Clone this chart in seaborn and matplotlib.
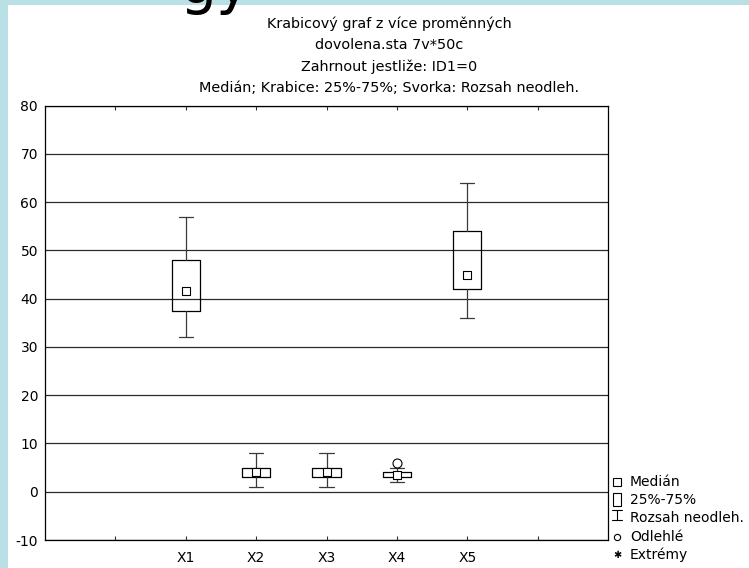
import numpy as np
import pandas as pd
import matplotlib
matplotlib.use("Agg")
import matplotlib.pyplot as plt
import seaborn as sns
from matplotlib.patches import Rectangle
from matplotlib.lines import Line2D

# ---------------- data ----------------
categories = ["X1", "X2", "X3", "X4", "X5"]
whisker_low = [32, 1, 1, 2, 36]
q1 = [37.5, 3, 3, 3, 42]
median = [41.5, 4, 4, 3.5, 45]
q3 = [48, 5, 5, 4, 54]
whisker_high = [57, 8, 8, 5, 64]
outlier_vars = ["X4"]
outlier_vals = [6]

tick_labels = [""] + categories + [""]
y_ticks = list(range(-10, 81, 10))

title_lines = [
    "Krabicový graf z více proměnných",
    "dovolena.sta 7v*50c",
    "Zahrnout jestliže: ID1=0",
    "Medián; Krabice: 25%-75%; Svorka: Rozsah neodleh.",
]
legend_labels = ["Medián", "25%-75%", "Rozsah neodleh.", "Odlehlé", "Extrémy"]

# ---------------- style ----------------
sns.set_style("white")
plt.rcParams["font.family"] = ["DejaVu Sans"]

W, H = 749, 568
BG = "#B9E0E4"


def F(x, y):
    return (x / W, 1 - y / H)


fig = plt.figure(figsize=(W / 100, H / 100), dpi=100, facecolor=BG)
fig.add_artist(Rectangle(F(8, H), 1 - 8 / W, 1 - 5 / H, transform=fig.transFigure,
                         facecolor="white", edgecolor="none", zorder=-5))

# cut-off heading at the top of the slide (only its lower part is visible)
fig.text(*F(180, 3), "gy", fontsize=42, ha="left", va="baseline", color="black")

ax = fig.add_axes([45 / W, 1 - 540 / H, (608 - 45) / W, (540 - 105.7) / H])
ax.set_facecolor("white")

pos_of = {c: i + 2 for i, c in enumerate(categories)}
positions = [pos_of[c] for c in categories]

stats = []
for c, lo, a, m, b, hi in zip(categories, whisker_low, q1, median, q3, whisker_high):
    stats.append(dict(label=c, whislo=lo, q1=a, med=m, q3=b, whishi=hi, fliers=[]))

ax.bxp(stats, positions=positions, widths=0.4, capwidths=0.2, showfliers=False,
       boxprops=dict(color="black", linewidth=0.9),
       whiskerprops=dict(color="#3a3a3a", linewidth=0.9),
       capprops=dict(color="#3a3a3a", linewidth=0.9),
       medianprops=dict(linewidth=0), manage_ticks=False)

med_df = pd.DataFrame({"pos": positions, "median": median})
sns.scatterplot(data=med_df, x="pos", y="median", marker="s", s=30, color="white",
                edgecolor="black", linewidth=0.8, ax=ax, zorder=5, legend=False)

out_df = pd.DataFrame({"pos": [pos_of[c] for c in outlier_vars], "val": outlier_vals})
sns.scatterplot(data=out_df, x="pos", y="val", marker="o", s=42, color="white",
                edgecolor="black", linewidth=0.8, ax=ax, zorder=5, legend=False)

ax.set_xlim(0, 8)
ax.set_ylim(-10, 80)
ax.set_xticks(range(1, 8))
ax.set_xticklabels(tick_labels)
ax.set_yticks(y_ticks)
ax.set_yticklabels([str(v) for v in y_ticks])
ax.set_xlabel("")
ax.set_ylabel("")
ax.yaxis.grid(True, color="#2a2a2a", linewidth=0.9)
ax.xaxis.grid(False)
ax.set_axisbelow(True)
ax.tick_params(axis="y", length=0, pad=5, labelsize=10, labelcolor="black")
ax.tick_params(axis="x", direction="in", length=3, width=0.8, top=True, bottom=True,
               pad=8, labelsize=10, labelcolor="black", color="#333333")
for s in ax.spines.values():
    s.set_visible(True)
    s.set_color("black")
    s.set_linewidth(0.9)

# titles
for i, t in enumerate(title_lines):
    fig.text(*F(389, 24 + 21.2 * i), t, ha="center", va="center", fontsize=10.4, color="black")

# custom legend
ly = [482, 500, 518.5, 537, 555]
sx = 617
fig.add_artist(Line2D([F(sx, 0)[0]], [F(0, ly[0])[1]], marker="s", markersize=5.5,
                      markerfacecolor="white", markeredgecolor="black", markeredgewidth=0.8,
                      linestyle="none", transform=fig.transFigure))
fig.add_artist(Rectangle(F(612.5, 506), 8 / W, 13 / H, transform=fig.transFigure,
                         facecolor="white", edgecolor="black", linewidth=0.8))
fig.add_artist(Line2D([F(sx, 0)[0]] * 2, [F(0, 509.5)[1], F(0, 519.5)[1]],
                      color="black", linewidth=0.8, transform=fig.transFigure))
for yy in (509.5, 519.5):
    fig.add_artist(Line2D([F(612, 0)[0], F(622, 0)[0]], [F(0, yy)[1]] * 2,
                          color="black", linewidth=0.8, transform=fig.transFigure))
fig.add_artist(Line2D([F(sx, 0)[0]], [F(0, ly[3])[1]], marker="o", markersize=4.5,
                      markerfacecolor="white", markeredgecolor="black", markeredgewidth=0.8,
                      linestyle="none", transform=fig.transFigure))
fig.text(*F(sx, ly[4]), "\u2731", ha="center", va="center", fontsize=7, color="black")
for lab, yy in zip(legend_labels, ly):
    fig.text(*F(630, yy), lab, ha="left", va="center", fontsize=10, color="black")

fig.savefig("out.png", dpi=100, facecolor=fig.get_facecolor())
